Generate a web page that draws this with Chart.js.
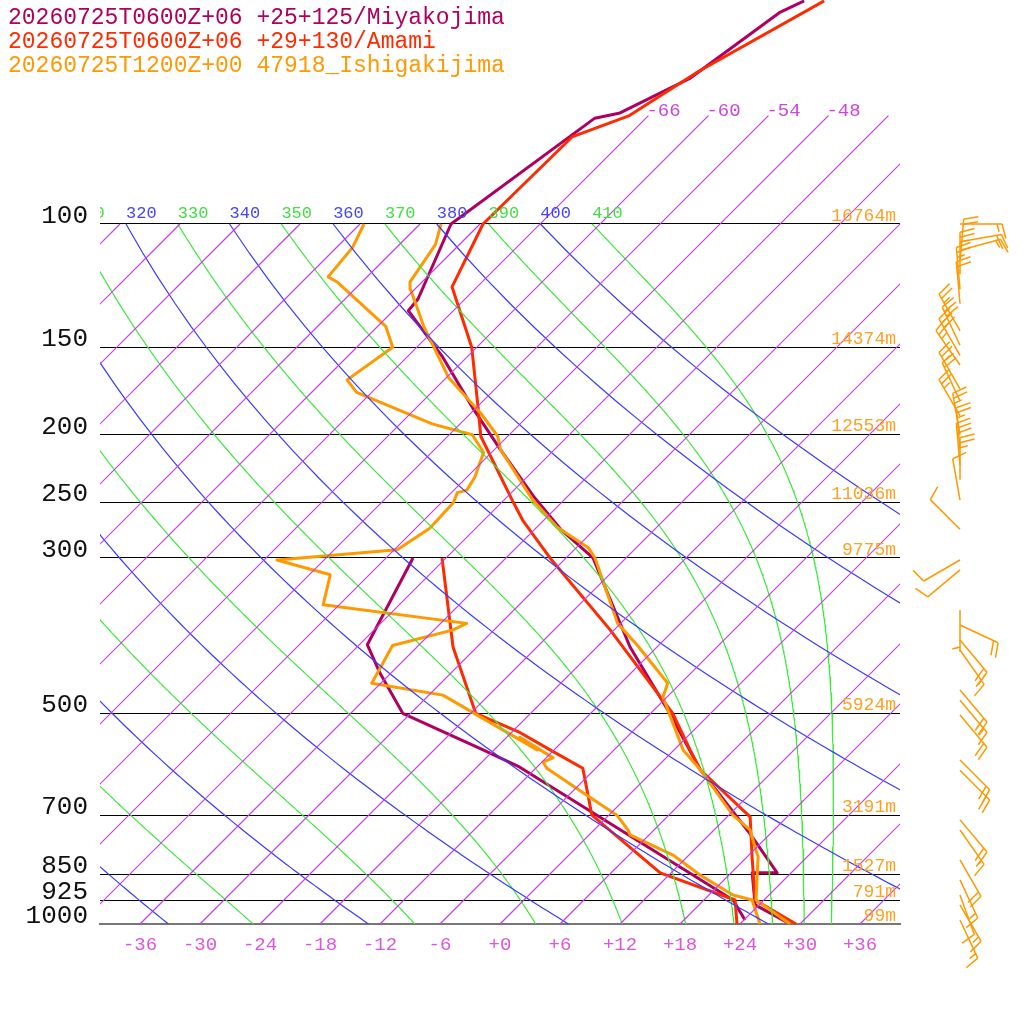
<!DOCTYPE html>
<html><head><meta charset="utf-8">
<script src="https://cdn.jsdelivr.net/npm/chart.js@4"></script>
<style>html,body{margin:0;padding:0;background:#fff}canvas{display:block}</style>
</head><body>
<canvas id="c" width="1024" height="1024" style="width:1024px;height:1024px"></canvas>
<script>
// ---- data ----
const legendLabels = ['20260725T0600Z+06 +25+125/Miyakojima','20260725T0600Z+06 +29+130/Amami','20260725T1200Z+00 47918_Ishigakijima'];
const seriesColors = ['#b0005f','#ff2a00','#ff9900'];

const miyaTP = [1000,939,845,845,742,602,479,500,402,300,273,245,210,184,155,133,128,100,70.6,69.4,62.0,49.9,48.0];
const miyaT  = [29.0,23.6,20.1,22.6,15.9,4.6,-6.1,-4.1,-14.7,-27.3,-33.4,-39.4,-47.4,-54.1,-62.4,-70.5,-70.7,-74.9,-71.1,-69.1,-65.6,-63.2,-61.9];
const miyaDP = [987,924,597,564,500,438,399,300];
const miyaTd = [24.1,20.9,-13.7,-19.1,-30.8,-37.1,-41.2,-45.3];

const amamiTP = [1000,924,802,703,602,564,500,380,300,265,250,201,182,150,123,100,75.1,70.0,60.5,48.0];
const amamiT  = [29.6,23.1,18.5,14.3,4.6,1.6,-3.8,-18.4,-31.6,-38.1,-40.8,-50.7,-54.0,-60.5,-68.5,-71.7,-71.5,-67.9,-65.4,-59.9];
const amamiDP = [1000,924,845,699,599,564,533,500,402,300];
const amamiTd = [23.7,21.1,10.9,-1.7,-7.3,-12.4,-17.1,-23.5,-32.4,-42.4];

const ishiTP = [1000,924,802,734,699,602,564,474,453,400,372,300,290,271,248,210,201,186,166,140,124,121,107,100];
const ishiT  = [29.0,23.2,19.1,15.6,12.4,4.6,0.9,-6.4,-7.3,-14.1,-18.3,-27.1,-28.8,-34.0,-39.1,-47.4,-49.0,-53.1,-59.7,-67.4,-72.4,-73.2,-74.4,-75.9];
const ishiDP = [1000,924,909,851,797,746,734,699,659,599,587,579,541,564,471,453,400,380,372,350,317,302,292,272,250,242,240,230,212,200,193,174,167,150,140,121,119,108,100];
const ishiTd = [26.0,22.8,20.4,15.1,10.4,4.1,3.4,0.8,-3.7,-10.9,-11.9,-11.3,-16.7,-13.7,-28.6,-36.9,-38.6,-34.1,-33.4,-49.6,-51.9,-58.7,-47.7,-46.6,-46.8,-47.4,-46.7,-47.2,-48.8,-51.7,-56.8,-67.5,-69.7,-68.4,-71.2,-80.5,-81.9,-82.4,-83.6];

const pressureTicks = [100,150,200,250,300,500,700,850,925,1000];
const heightLabels  = ['16764m','14374m','12553m','11036m','9775m','5924m','3191m','1527m','791m','99m'];
const tempTicks = [-36,-30,-24,-18,-12,-6,0,6,12,18,24,30,36];

const windP   = [100,106,109,113,118,124,130,142,149,154,159,172,179,188,200,210,221,232,248,273,302,312,356,374,393,406,463,479,503,583,603,710,734,810,865,909,939,987];
const windDir = [90,80,75,5,0,355,355,330,335,330,325,330,335,330,350,355,355,0,350,315,240,230,180,115,140,145,140,140,140,135,135,140,145,150,155,160,150,155];
const windSpd = [15,20,15,20,25,25,20,25,30,30,25,25,20,25,25,25,30,25,10,10,10,10,5,20,20,15,20,15,20,20,20,20,15,20,15,10,15,15];

// ---- skew-T helpers ----
const SKEW = 70;
const sx = (T,p) => T + SKEW*Math.log10(1000/p);
const pts = (P,T) => P.map((p,i)=>({x:sx(T[i],p),y:p}));

const datasets = [];
function bg(data,color,w){datasets.push({data,borderColor:color,borderWidth:w,pointRadius:0,showLine:true,fill:false,tension:0});}
for(let T=-132;T<=42;T+=6){ const pt=T>=-66?70:100; bg([{x:sx(T,1000),y:1000},{x:sx(T,pt),y:pt}],'#c040e0',1.2); }
for(let th=200;th<=400;th+=20){ const d=[]; for(let p=100;p<=1000;p+=10) d.push({x:sx(th*Math.pow(p/1000,0.2857)-273.15,p),y:p}); bg(d,'#3a3aff',1.2); }
function moist(th){ const Rd=287,cp=1005,Lv=2.5e6,eps=0.622; let T=th*Math.pow(0.1,0.2857); let lp=Math.log(100); const n=300, dl=Math.log(10)/n; const d=[];
  for(let i=0;i<=n;i++){ const p=Math.exp(lp); d.push({x:sx(T-273.15,p),y:p}); const Tc=T-273.15; const es=6.112*Math.exp(17.67*Tc/(Tc+243.5)); const rs=eps*es/(p-es);
    const g=(Rd*T+Lv*rs)/(cp+Lv*Lv*rs*eps/(Rd*T*T)); T+=g*dl; lp+=dl; } return d; }
for(let th=250;th<=410;th+=20){ bg(moist(th),'#3ee83e',1.2); }
function prof(d,c){datasets.push({data:d,borderColor:c,borderWidth:3,pointRadius:0,showLine:true,fill:false,tension:0,borderJoinStyle:'round',clip:false});}
prof(pts(ishiTP,ishiT),seriesColors[2]); prof(pts(ishiDP,ishiTd),seriesColors[2]);
prof(pts(amamiTP,amamiT),seriesColors[1]); prof(pts(amamiDP,amamiTd),seriesColors[1]);
prof(pts(miyaTP,miyaT),seriesColors[0]); prof(pts(miyaDP,miyaTd),seriesColors[0]);

const MONO = '"Liberation Mono", "DejaVu Sans Mono", monospace';
const overlay = {
  id:'overlay',
  afterDraw(chart){
    const ctx=chart.ctx, xs=chart.scales.x, ys=chart.scales.y, a=chart.chartArea;
    ctx.save();
    ctx.font='23px '+MONO; ctx.textBaseline='middle'; ctx.textAlign='left';
    legendLabels.forEach((t,i)=>{ctx.fillStyle=seriesColors[i]; ctx.fillText(t,8,18+i*24);});
    ctx.font='18px '+MONO; ctx.textAlign='right'; ctx.fillStyle='#ffa020';
    pressureTicks.forEach((p,i)=>ctx.fillText(heightLabels[i],896,ys.getPixelForValue(p)-8));
    ctx.font='19px '+MONO; ctx.fillStyle='#cc44dd'; ctx.textAlign='left';
    [-66,-60,-54,-48].forEach(T=>{const p=70; ctx.fillText(String(T),xs.getPixelForValue(sx(T,p))-2,ys.getPixelForValue(p)-5);});
    ctx.save(); ctx.beginPath(); ctx.rect(a.left,0,a.right-a.left,a.bottom); ctx.clip();
    ctx.font='17px '+MONO; ctx.textAlign='left';
    for(let th=310;th<=410;th+=10){ const T=th*Math.pow(0.1,0.2857)-273.15; const x=xs.getPixelForValue(sx(T,100));
      ctx.fillStyle=(th%20===0)?'#4444ff':'#44dd44'; ctx.fillText(String(th),x,ys.getPixelForValue(100)-11); }
    ctx.restore();
    ctx.strokeStyle='#ff9900'; ctx.lineWidth=1.5;
    windP.forEach((p,i)=>{
      const x0=960, y0=ys.getPixelForValue(p); const th=windDir[i]*Math.PI/180;
      const ux=Math.sin(th), uy=-Math.cos(th); const L=42;
      const tx=x0+ux*L, ty=y0+uy*L;
      ctx.beginPath(); ctx.moveTo(x0,y0); ctx.lineTo(tx,ty);
      const ang=75*Math.PI/180; const bx=ux*Math.cos(ang)-uy*Math.sin(ang), by=ux*Math.sin(ang)+uy*Math.cos(ang);
      let s=windSpd[i], k=0;
      while(s>=10){ const px=tx-ux*k*5, py=ty-uy*k*5; ctx.moveTo(px,py); ctx.lineTo(px+bx*15,py+by*15); s-=10; k++; }
      if(s>=5){ if(k===0)k=1; const px=tx-ux*k*5, py=ty-uy*k*5; ctx.moveTo(px,py); ctx.lineTo(px+bx*8,py+by*8); }
      ctx.stroke();
    });
    ctx.restore();
  }
};

const chart = new Chart(document.getElementById('c'),{
  type:'scatter',
  data:{datasets},
  options:{
    responsive:false, animation:false, devicePixelRatio:1,
    layout:{padding:{left:0,right:124,top:0,bottom:0}},
    plugins:{legend:{display:false},tooltip:{enabled:false}},
    scales:{
      x:{type:'linear',min:-40,max:40,
        afterBuildTicks:s=>{s.ticks=tempTicks.map(v=>({value:v}));},
        afterFit:s=>{s.height=100;},
        grid:{display:false},
        border:{display:true,color:'#777',width:2},
        ticks:{color:'#dd55dd',font:{family:MONO,size:19},padding:2,maxRotation:0,autoSkip:false,
          callback:v=>(v>=0?'+':'')+v}},
      y:{type:'logarithmic',reverse:true,min:50,max:1000,
        afterBuildTicks:s=>{s.ticks=pressureTicks.map(v=>({value:v}));},
        afterFit:s=>{s.width=100;},
        grid:{color:'#000',lineWidth:1,drawTicks:false},
        border:{display:false},
        ticks:{color:'#111',font:{family:MONO,size:26},padding:12,labelOffset:-8,autoSkip:false,
          callback:v=>String(v)}}
    }
  },
  plugins:[overlay]
});
const ca = chart.chartArea;
chart.options.scales.y.min = 1000*Math.pow(10,-(ca.bottom-ca.top)/700);
chart.update();
</script>
</body></html>
